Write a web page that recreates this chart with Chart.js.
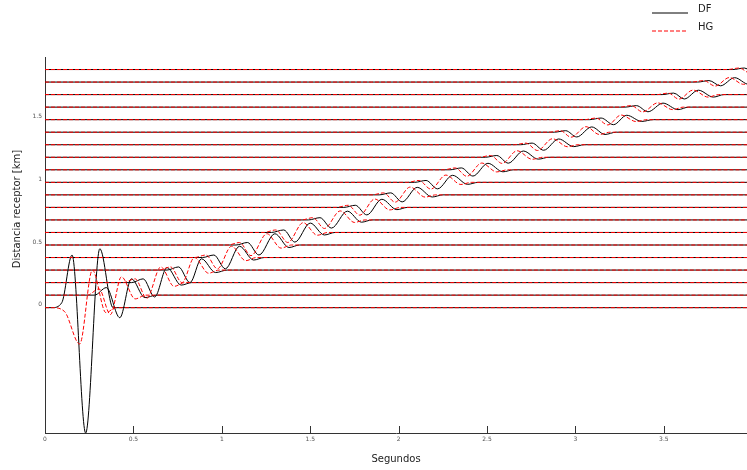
<!DOCTYPE html>
<html>
<head>
<meta charset="utf-8">
<title>Sismogramas DF / HG</title>
<script src="https://cdn.jsdelivr.net/npm/chart.js@4/dist/chart.umd.min.js"></script>
<style>
  html, body { margin: 0; padding: 0; background: #fff; overflow: hidden; }
  canvas { display: block; }
</style>
</head>
<body>
<canvas id="traces" width="747" height="470"></canvas>
<script>
// receiver distances (km), one trace per receiver
var distances = [0, 0.1, 0.2, 0.3, 0.4, 0.5, 0.6, 0.7, 0.8, 0.9,
                 1.0, 1.1, 1.2, 1.3, 1.4, 1.5, 1.6, 1.7, 1.8, 1.9];

var xTicks = [0, 0.5, 1, 1.5, 2, 2.5, 3, 3.5];
var xTickLabels = ['0', '0.5', '1', '1.5', '2', '2.5', '3', '3.5'];
var yTicks = [0, 0.5, 1, 1.5];
var yTickLabels = ['0', '0.5', '1', '1.5'];

// wave segment of each trace: [time (s), amplitude], flat before and after
var dfWaves = [
  [[0.04, 0], [0.095, 0.04], [0.153, 0.42], [0.23, -1.0], [0.31, 0.47], [0.385, 0]],
  [[0.28, 0], [0.347, 0.06], [0.423, -0.18], [0.489, 0.13], [0.565, -0.02], [0.63, 0]],
  [[0.49, 0], [0.555, 0.03], [0.62, -0.115], [0.69, 0.12], [0.77, -0.02], [0.83, 0]],
  [[0.69, 0], [0.755, 0.025], [0.82, -0.10], [0.885, 0.09], [0.965, -0.02], [1.03, 0]],
  [[0.89, 0], [0.955, 0.02], [1.02, -0.09], [1.10, 0.09], [1.18, -0.02], [1.24, 0]],
  [[1.08, 0], [1.145, 0.02], [1.21, -0.08], [1.30, 0.09], [1.38, -0.02], [1.44, 0]],
  [[1.28, 0], [1.35, 0.02], [1.413, -0.077], [1.50, 0.075], [1.58, -0.02], [1.64, 0]],
  [[1.49, 0], [1.555, 0.018], [1.62, -0.065], [1.71, 0.07], [1.79, -0.018], [1.85, 0]],
  [[1.69, 0], [1.755, 0.017], [1.82, -0.06], [1.905, 0.065], [1.99, -0.018], [2.05, 0]],
  [[1.89, 0], [1.955, 0.016], [2.02, -0.056], [2.105, 0.06], [2.19, -0.017], [2.25, 0]],
  [[2.09, 0], [2.155, 0.015], [2.22, -0.052], [2.305, 0.056], [2.39, -0.016], [2.45, 0]],
  [[2.29, 0], [2.355, 0.015], [2.42, -0.05], [2.505, 0.052], [2.59, -0.016], [2.65, 0]],
  [[2.49, 0], [2.555, 0.014], [2.62, -0.047], [2.705, 0.05], [2.79, -0.015], [2.85, 0]],
  [[2.69, 0], [2.755, 0.013], [2.82, -0.044], [2.905, 0.046], [2.99, -0.015], [3.05, 0]],
  [[2.88, 0], [2.945, 0.012], [3.007, -0.038], [3.092, 0.042], [3.167, -0.018], [3.23, 0]],
  [[3.08, 0], [3.145, 0.013], [3.215, -0.04], [3.29, 0.035], [3.375, -0.014], [3.44, 0]],
  [[3.28, 0], [3.345, 0.012], [3.41, -0.037], [3.495, 0.032], [3.58, -0.02], [3.64, 0]],
  [[3.49, 0], [3.555, 0.012], [3.615, -0.035], [3.695, 0.035], [3.78, -0.02], [3.84, 0]],
  [[3.69, 0], [3.755, 0.012], [3.82, -0.03], [3.90, 0.035], [3.98, -0.018], [4.04, 0]],
  [[3.89, 0], [3.955, 0.012], [4.02, -0.03], [4.10, 0.03]]
];

var hgWaves = [
  [[0.04, 0], [0.11, -0.03], [0.196, -0.29], [0.268, 0.30], [0.345, -0.04], [0.40, 0]],
  [[0.24, 0], [0.305, 0.05], [0.37, -0.155], [0.432, 0.146], [0.51, -0.03], [0.57, 0]],
  [[0.44, 0], [0.51, 0.03], [0.575, -0.125], [0.655, 0.125], [0.73, -0.03], [0.79, 0]],
  [[0.645, 0], [0.71, 0.025], [0.775, -0.10], [0.845, 0.10], [0.925, -0.025], [0.985, 0]],
  [[0.845, 0], [0.91, 0.02], [0.975, -0.09], [1.055, 0.09], [1.135, -0.025], [1.195, 0]],
  [[1.035, 0], [1.10, 0.02], [1.165, -0.085], [1.255, 0.09], [1.335, -0.025], [1.395, 0]],
  [[1.24, 0], [1.305, 0.02], [1.373, -0.08], [1.46, 0.078], [1.54, -0.022], [1.60, 0]],
  [[1.45, 0], [1.515, 0.018], [1.58, -0.068], [1.67, 0.072], [1.75, -0.02], [1.81, 0]],
  [[1.65, 0], [1.715, 0.017], [1.78, -0.062], [1.865, 0.067], [1.95, -0.02], [2.01, 0]],
  [[1.85, 0], [1.915, 0.016], [1.98, -0.058], [2.065, 0.062], [2.15, -0.018], [2.21, 0]],
  [[2.05, 0], [2.115, 0.015], [2.182, -0.054], [2.267, 0.058], [2.352, -0.017], [2.41, 0]],
  [[2.255, 0], [2.32, 0.015], [2.385, -0.052], [2.47, 0.054], [2.555, -0.017], [2.615, 0]],
  [[2.455, 0], [2.52, 0.014], [2.585, -0.049], [2.67, 0.052], [2.755, -0.016], [2.815, 0]],
  [[2.655, 0], [2.72, 0.013], [2.785, -0.046], [2.87, 0.048], [2.955, -0.016], [3.015, 0]],
  [[2.85, 0], [2.915, 0.012], [2.975, -0.04], [3.06, 0.044], [3.135, -0.018], [3.195, 0]],
  [[3.05, 0], [3.115, 0.013], [3.183, -0.042], [3.258, 0.037], [3.343, -0.015], [3.405, 0]],
  [[3.25, 0], [3.315, 0.012], [3.38, -0.038], [3.465, 0.034], [3.55, -0.02], [3.61, 0]],
  [[3.46, 0], [3.525, 0.012], [3.585, -0.036], [3.665, 0.036], [3.75, -0.02], [3.81, 0]],
  [[3.66, 0], [3.725, 0.012], [3.79, -0.032], [3.87, 0.036], [3.95, -0.018], [4.01, 0]],
  [[3.86, 0], [3.925, 0.012], [3.99, -0.03], [4.07, 0.03]]
];

var FONT = '"DejaVu Sans", "Liberation Sans", sans-serif';
var DF_COLOR = '#000000';
var HG_COLOR = 'rgb(255, 0, 0)';
var HG_DASH = [4, 2];

// trace at distance d: flat line with the wave segment laid on top
function traceData(d, wave) {
  var pts = [{ x: 0, y: d }];
  wave.forEach(function (p) { pts.push({ x: p[0], y: d + p[1] }); });
  pts.push({ x: 4.2, y: d });
  return pts;
}

function makeSets(label, waves, color, dash, order) {
  return distances.map(function (d, i) {
    return {
      label: label,
      data: traceData(d, waves[i]),
      borderColor: color,
      borderWidth: 1,
      borderDash: dash,
      pointRadius: 0,
      cubicInterpolationMode: 'monotone',
      fill: false,
      order: order
    };
  });
}

var datasets = makeSets('HG', hgWaves, HG_COLOR, HG_DASH, 0)
  .concat(makeSets('DF', dfWaves, DF_COLOR, [], 1));

// inward ticks, rotated y title and the two-line legend
var decor = {
  id: 'decor',
  afterDraw: function (chart) {
    var ctx = chart.ctx;
    var xs = chart.scales.x, ys = chart.scales.y;
    ctx.save();
    ctx.strokeStyle = '#333';
    ctx.lineWidth = 1;
    xs.ticks.forEach(function (t) {
      var px = Math.round(xs.getPixelForValue(t.value)) + 0.5;
      ctx.beginPath();
      ctx.moveTo(px, ys.bottom);
      ctx.lineTo(px, ys.bottom - 7);
      ctx.stroke();
    });

    ctx.fillStyle = '#222';
    ctx.font = '10px ' + FONT;
    ctx.textBaseline = 'middle';

    ctx.save();
    ctx.translate(17, 209);
    ctx.rotate(-Math.PI / 2);
    ctx.textAlign = 'center';
    ctx.fillText('Distancia receptor [km]', 0, 0);
    ctx.restore();

    var entries = [
      { text: 'DF', color: DF_COLOR, dash: [], y: 13 },
      { text: 'HG', color: HG_COLOR, dash: HG_DASH, y: 31 }
    ];
    ctx.textAlign = 'left';
    entries.forEach(function (e) {
      ctx.save();
      ctx.strokeStyle = e.color;
      ctx.lineWidth = 1;
      ctx.setLineDash(e.dash);
      ctx.beginPath();
      ctx.moveTo(652, e.y);
      ctx.lineTo(688, e.y);
      ctx.stroke();
      ctx.restore();
      ctx.fillText(e.text, 698, e.y - 4);
    });
    ctx.restore();
  }
};

var chart = new Chart(document.getElementById('traces').getContext('2d'), {
  type: 'line',
  data: { datasets: datasets },
  options: {
    responsive: false,
    animation: false,
    events: [],
    layout: { padding: { top: 57, right: 0, bottom: 0, left: 0 } },
    plugins: {
      legend: { display: false },
      tooltip: { enabled: false }
    },
    scales: {
      x: {
        type: 'linear',
        min: 0,
        max: 3.97,
        afterBuildTicks: function (s) { s.ticks = xTicks.map(function (v) { return { value: v }; }); },
        afterFit: function (s) { s.height = 37; },
        grid: { drawOnChartArea: false, drawTicks: false },
        border: { color: '#333', width: 1 },
        ticks: {
          autoSkip: false,
          maxRotation: 0,
          padding: 3,
          color: '#555',
          font: { size: 6, family: FONT },
          callback: function (v, i) { return xTickLabels[i]; }
        },
        title: {
          display: true,
          text: 'Segundos',
          color: '#222',
          font: { size: 10, family: FONT },
          padding: { top: 0, bottom: 5 }
        }
      },
      y: {
        type: 'linear',
        min: -1,
        max: 2,
        afterBuildTicks: function (s) { s.ticks = yTicks.map(function (v) { return { value: v }; }); },
        afterFit: function (s) { s.width = 45; },
        grid: { drawOnChartArea: false, drawTicks: false },
        border: { color: '#333', width: 1 },
        ticks: {
          autoSkip: false,
          padding: 3,
          labelOffset: -3,
          color: '#555',
          font: { size: 6, family: FONT },
          callback: function (v, i) { return yTickLabels[i]; }
        }
      }
    }
  },
  plugins: [decor]
});
</script>
</body>
</html>
